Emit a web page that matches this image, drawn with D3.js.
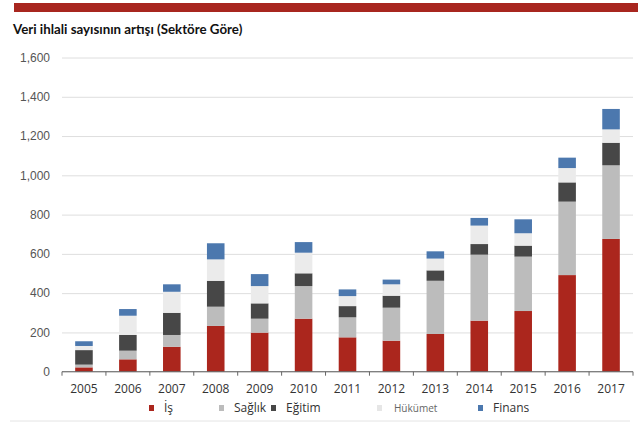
<!DOCTYPE html>
<html>
<head>
<meta charset="utf-8">
<script src="https://cdn.jsdelivr.net/npm/d3@7"></script>
<style>
  body { margin: 0; background: #fff; }
  svg { display: block; font-family: "Open Sans", "Noto Sans", sans-serif; }
</style>
</head>
<body>
<svg id="chart"></svg>
<script>
// data
var years = ["2005","2006","2007","2008","2009","2010","2011","2012","2013","2014","2015","2016","2017"];
var sectors = ["İş", "Sağlık", "Eğitim", "Hükümet", "Finans"];
var is_      = [22, 63, 127, 233, 199, 270, 175, 158, 192, 260, 309, 492, 676];
var saglik   = [14, 44, 60, 98, 71, 166, 102, 168, 271, 336, 277, 374, 375];
var egitim   = [74, 80, 113, 132, 78, 65, 57, 61, 53, 54, 56, 98, 115];
var hukumet  = [21, 98, 107, 109, 88, 105, 51, 58, 60, 94, 63, 73, 68];
var finans   = [24, 34, 38, 82, 61, 54, 34, 24, 37, 39, 71, 53, 104];
var yTicks = [0, 200, 400, 600, 800, 1000, 1200, 1400, 1600];

var colors = ["#ab261d", "#bcbcbc", "#474747", "#ebebeb", "#4c78ae"];

var width = 638, height = 426;
var margin = {"top": 57.5, "right": 5, "bottom": 54.3, "left": 62};

var table = years.map(function(y, i){
    return {year: y, "İş": is_[i], "Sağlık": saglik[i], "Eğitim": egitim[i], "Hükümet": hukumet[i], "Finans": finans[i]};
});
var stacked = d3.stack().keys(sectors)(table);

var svg = d3.select('#chart')
    .attr("width", width)
    .attr("height", height);

// red band at the top
svg.append("rect")
    .attr("x", 14).attr("y", 3)
    .attr("width", width - 14).attr("height", 9)
    .attr("fill", "#a8261f");

// title
svg.append("text")
    .attr("x", 13).attr("y", 34)
    .style("font-family", "Lato, 'Open Sans', sans-serif")
    .style("font-weight", "bold")
    .style("font-size", "13.3px")
    .style("fill", "#111")
    .text("Veri ihlali sayısının artışı (Sektöre Göre)");

// scales
var xScale = d3.scaleBand()
    .domain(years)
    .range([margin.left, width - margin.right])
    .paddingInner(0.6)
    .paddingOuter(0.3);

var yScale = d3.scaleLinear()
    .domain([0, 1600])
    .range([height - margin.bottom, margin.top]);

// gridlines
var yAxis = d3.axisLeft(yScale)
    .tickValues(yTicks)
    .tickFormat(d3.format(","))
    .tickSize(-(width - margin.left - margin.right))
    .tickPadding(12);

var gy = svg.append('g')
    .attr('transform', 'translate(' + margin.left + ',0)')
    .call(yAxis);
gy.select(".domain").remove();
gy.selectAll(".tick line").attr("stroke", "#dedede");
gy.selectAll(".tick text")
    .style("font-size", "12px")
    .style("fill", "#555");

// bars
svg.append("g").selectAll("g")
    .data(stacked)
    .join("g")
    .attr("fill", function(d, i){ return colors[i]; })
    .selectAll("rect")
    .data(function(d){ return d; })
    .join("rect")
    .attr("x", function(d){ return xScale(d.data.year); })
    .attr("y", function(d){ return yScale(d[1]); })
    .attr("width", xScale.bandwidth())
    .attr("height", function(d){ return yScale(d[0]) - yScale(d[1]); });

// x axis with ticks between categories
var step = xScale.step();
var boundaries = years.map(function(y){ return xScale(y) - step * xScale.paddingInner() / 2; });
var gx = svg.append("g");
gx.append("line")
    .attr("x1", margin.left).attr("x2", width - margin.right)
    .attr("y1", yScale(0)).attr("y2", yScale(0))
    .attr("stroke", "#666");
gx.selectAll("line.tk")
    .data(boundaries.concat([width - margin.right]))
    .join("line")
    .attr("class", "tk")
    .attr("x1", function(d){ return d; }).attr("x2", function(d){ return d; })
    .attr("y1", yScale(0)).attr("y2", yScale(0) + 4)
    .attr("stroke", "#666");
gx.selectAll("text")
    .data(years)
    .join("text")
    .attr("x", function(d){ return xScale(d) + xScale.bandwidth() / 2; })
    .attr("y", yScale(0) + 21)
    .attr("text-anchor", "middle")
    .style("font-size", "12px")
    .style("fill", "#333")
    .text(function(d){ return d; });

// legend
var legendX = [149, 219, 271, 377, 478];
var lg = svg.append("g").selectAll("g")
    .data(sectors)
    .join("g")
    .attr("transform", function(d, i){ return "translate(" + legendX[i] + ",405)"; });
lg.append("rect")
    .attr("width", 5).attr("height", 6)
    .attr("fill", function(d, i){ return i == 3 ? "#e6e6e6" : colors[i]; });
lg.append("text")
    .attr("x", function(d, i){ return i == 3 ? 17 : 15; })
    .attr("y", 7)
    .style("font-size", function(d, i){ return i == 3 ? "10px" : "12px"; })
    .style("fill", function(d, i){ return i == 3 ? "#666" : "#333"; })
    .text(function(d){ return d; });

// faint bottom rule
svg.append("line")
    .attr("x1", 10).attr("x2", 630)
    .attr("y1", 421).attr("y2", 421)
    .attr("stroke", "#e4e4e4");
</script>
</body>
</html>
